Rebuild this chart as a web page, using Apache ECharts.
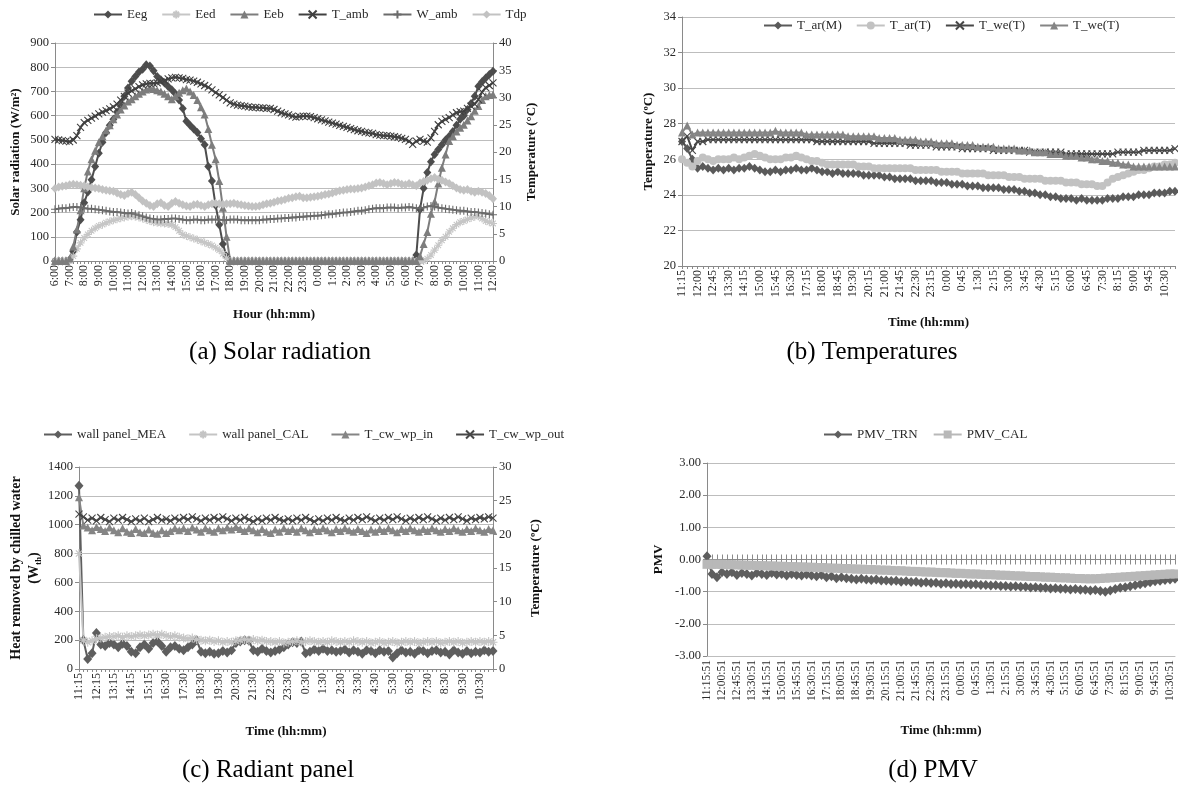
<!DOCTYPE html>
<html>
<head>
<meta charset="utf-8">
<script src="https://cdn.jsdelivr.net/npm/echarts@6/dist/echarts.min.js"></script>
<style>
html, body { margin: 0; padding: 0; background: #fff; }
#chart { width: 1178px; height: 796px; }
</style>
</head>
<body>
<div id="chart"></div>
<script>
// ---- (a) solar radiation, 15 min steps 6:00 -> 12:00 next day
var tickA = ['6:00','7:00','8:00','9:00','10:00','11:00','12:00','13:00','14:00','15:00','16:00','17:00','18:00','19:00','20:00','21:00','22:00','23:00','0:00','1:00','2:00','3:00','4:00','5:00','6:00','7:00','8:00','9:00','10:00','11:00','12:00'];
var eeg = [0,0,0,0,5,40,120,170,
  240,285,335,390,445,490,530,560,
  585,615,640,680,714,742,762,780,
  792,810,805,785,762,748,735,720,
  707,690,665,630,577,560,545,530,
  505,480,390,330,230,150,70,20,
  0,0,0,0,0,0,0,0,
  0,0,0,0,0,0,0,0,
  0,0,0,0,0,0,0,0,
  0,0,0,0,0,0,0,0,
  0,0,0,0,0,0,0,0,
  0,0,0,0,0,0,0,0,
  0,0,0,25,213,300,365,410,
  440,460,480,500,515,535,560,585,
  600,625,650,680,721,740,755,770,
  783];
var eed = [0,0,0,0,0,20,50,75,
  95,110,125,135,145,150,158,163,
  168,172,176,180,183,185,183,180,
  175,170,165,160,158,156,155,153,
  150,140,125,110,103,98,93,88,
  82,76,70,64,55,45,30,12,
  0,0,0,0,0,0,0,0,
  0,0,0,0,0,0,0,0,
  0,0,0,0,0,0,0,0,
  0,0,0,0,0,0,0,0,
  0,0,0,0,0,0,0,0,
  0,0,0,0,0,0,0,0,
  0,0,0,0,0,0,10,25,
  45,65,85,100,120,135,150,160,
  165,172,178,183,185,175,165,160,
  155];
var eeb = [0,0,0,0,10,60,130,210,
  300,370,420,455,490,515,540,560,
  585,605,625,642,658,668,680,690,
  700,708,714,710,705,700,690,680,
  668,680,695,705,712,700,685,665,
  635,605,545,480,420,330,220,100,
  0,0,0,0,0,0,0,0,
  0,0,0,0,0,0,0,0,
  0,0,0,0,0,0,0,0,
  0,0,0,0,0,0,0,0,
  0,0,0,0,0,0,0,0,
  0,0,0,0,0,0,0,0,
  0,0,0,0,20,70,120,195,
  245,320,385,440,495,515,535,550,
  563,580,598,620,640,665,680,685,
  687];
var tAmb = [22.3,22.2,22.1,22.0,21.9,22.2,23.0,24.5,
  25.4,25.8,26.2,26.6,27.0,27.3,27.6,27.9,
  28.3,28.8,29.5,30.2,30.8,31.2,31.6,32.0,
  32.3,32.5,32.6,32.6,32.7,32.9,33.1,33.4,
  33.6,33.7,33.6,33.5,33.3,33.2,33.0,32.8,
  32.5,32.2,31.9,31.4,30.9,30.5,30.0,29.5,
  29.0,28.8,28.6,28.5,28.4,28.3,28.2,28.2,
  28.1,28.1,28.0,28.0,27.8,27.5,27.2,27.0,
  26.8,26.6,26.4,26.5,26.6,26.6,26.5,26.3,
  26.1,25.9,25.7,25.5,25.3,25.1,24.9,24.7,
  24.5,24.3,24.1,23.9,23.8,23.6,23.5,23.4,
  23.2,23.1,23.0,23.0,22.9,22.8,22.7,22.5,
  22.3,22.0,21.4,22.0,22.3,22.0,21.8,22.6,
  23.8,25.0,25.6,26.0,26.3,26.8,27.2,27.4,
  27.5,28.0,28.4,28.8,29.6,31.0,31.8,32.2,
  32.7];
var wAmb = [9.5,9.6,9.7,9.7,9.8,9.9,9.9,9.8,
  9.7,9.6,9.6,9.5,9.4,9.3,9.2,9.1,
  9.0,9.0,8.9,8.8,8.7,8.8,8.6,8.4,
  8.2,8.0,7.8,7.7,7.6,7.6,7.7,7.7,
  7.8,7.8,7.7,7.6,7.5,7.5,7.6,7.6,
  7.5,7.5,7.6,7.6,7.6,7.6,7.5,7.5,
  7.6,7.6,7.6,7.5,7.5,7.5,7.5,7.5,
  7.5,7.6,7.6,7.7,7.7,7.8,7.8,7.9,
  7.9,8.0,8.0,8.1,8.1,8.2,8.2,8.3,
  8.3,8.4,8.5,8.6,8.6,8.7,8.8,8.9,
  8.9,9.0,9.1,9.2,9.2,9.3,9.5,9.6,
  9.7,9.7,9.7,9.8,9.8,9.8,9.7,9.8,
  9.8,9.9,9.8,9.7,9.6,9.8,10.0,10.1,
  10.0,9.8,9.7,9.6,9.5,9.4,9.3,9.2,
  9.2,9.1,9.0,9.0,8.9,8.8,8.7,8.6,
  8.5];
var tdp = [13.3,13.6,13.7,13.8,14.0,14.1,14.0,13.9,
  13.8,13.6,13.5,13.4,13.3,13.1,13.0,12.9,
  12.8,12.5,12.2,12.0,12.4,12.6,12.2,11.6,
  11.0,10.6,10.2,10.0,10.5,10.7,10.2,10.0,
  10.6,10.9,10.6,10.3,10.1,10.0,10.3,10.4,
  10.2,10.0,10.3,10.5,10.6,10.5,10.4,10.5,
  10.5,10.6,10.4,10.3,10.2,10.1,10.0,10.0,
  10.1,10.3,10.5,10.6,10.8,11.0,11.1,11.3,
  11.5,11.6,11.8,11.9,11.6,11.6,11.7,11.8,
  11.9,12.0,12.2,12.3,12.5,12.7,12.9,13.0,
  13.1,13.2,13.2,13.3,13.4,13.6,13.8,14.0,
  14.3,14.4,14.2,14.0,14.2,14.4,14.3,14.1,
  14.0,14.2,14.0,13.8,14.3,14.6,14.8,15.1,
  15.3,15.0,14.8,14.5,14.2,13.8,13.4,13.1,
  13.0,13.1,12.8,12.6,12.8,12.6,12.4,12.0,
  11.4];

// ---- (b) temperatures, 15 min steps from 11:15
var tickB = ['11:15','12:00','12:45','13:30','14:15','15:00','15:45','16:30','17:15','18:00','18:45','19:30','20:15','21:00','21:45','22:30','23:15','0:00','0:45','1:30','2:15','3:00','3:45','4:30','5:15','6:00','6:45','7:30','8:15','9:00','9:45','10:30'];
var tArM = [27.0,26.6,26.0,25.5,25.6,25.5,25.4,25.5,25.4,25.5,25.4,25.5,
  25.5,25.6,25.5,25.4,25.3,25.3,25.4,25.3,25.4,25.4,25.5,25.4,
  25.4,25.5,25.4,25.3,25.3,25.2,25.3,25.2,25.2,25.2,25.2,25.1,
  25.1,25.1,25.1,25.0,25.0,24.9,24.9,24.9,24.9,24.8,24.8,24.8,
  24.8,24.7,24.7,24.7,24.6,24.6,24.6,24.5,24.5,24.5,24.4,24.4,
  24.4,24.4,24.3,24.3,24.3,24.2,24.2,24.1,24.1,24.0,24.0,23.9,
  23.9,23.8,23.8,23.8,23.7,23.8,23.7,23.7,23.7,23.7,23.8,23.8,
  23.8,23.9,23.9,23.9,24.0,24.0,24.0,24.1,24.1,24.1,24.2,24.2];
var tArT = [26.0,25.8,25.6,25.9,26.1,26.0,25.9,26.0,26.0,26.0,26.1,26.0,
  26.1,26.2,26.3,26.2,26.1,26.0,26.0,26.0,26.1,26.1,26.2,26.1,
  26.0,25.9,25.9,25.8,25.7,25.7,25.7,25.7,25.7,25.7,25.6,25.6,
  25.6,25.5,25.5,25.5,25.5,25.5,25.5,25.5,25.5,25.4,25.4,25.4,
  25.4,25.4,25.3,25.3,25.3,25.3,25.2,25.2,25.2,25.2,25.2,25.1,
  25.1,25.1,25.1,25.0,25.0,25.0,24.9,24.9,24.9,24.9,24.8,24.8,
  24.8,24.8,24.7,24.7,24.7,24.6,24.6,24.6,24.5,24.5,24.7,24.9,
  25.0,25.1,25.2,25.3,25.4,25.4,25.5,25.6,25.6,25.7,25.7,25.8];
var tWeX = [27.0,27.3,26.5,27.0,27.0,27.1,27.1,27.1,27.1,27.1,27.1,27.1,
  27.1,27.1,27.1,27.1,27.1,27.1,27.1,27.1,27.1,27.1,27.1,27.1,
  27.1,27.1,27.0,27.0,27.0,27.0,27.0,27.0,27.0,27.0,27.0,27.0,
  27.0,26.9,26.9,26.9,26.9,26.9,26.9,26.9,26.8,26.8,26.8,26.8,
  26.8,26.7,26.7,26.7,26.7,26.7,26.6,26.6,26.6,26.6,26.6,26.6,
  26.5,26.5,26.5,26.5,26.5,26.5,26.5,26.4,26.4,26.4,26.4,26.4,
  26.4,26.4,26.3,26.3,26.3,26.3,26.3,26.3,26.3,26.3,26.3,26.3,
  26.4,26.4,26.4,26.4,26.4,26.5,26.5,26.5,26.5,26.5,26.5,26.6];
var tWeTri = [27.5,27.9,27.4,27.5,27.5,27.5,27.5,27.5,27.5,27.5,27.5,27.5,
  27.5,27.5,27.5,27.5,27.5,27.5,27.6,27.5,27.5,27.5,27.5,27.5,
  27.4,27.4,27.4,27.4,27.4,27.4,27.4,27.4,27.3,27.3,27.3,27.3,
  27.3,27.3,27.2,27.2,27.2,27.2,27.1,27.1,27.1,27.1,27.0,27.0,
  27.0,26.9,26.9,26.9,26.9,26.8,26.8,26.8,26.8,26.7,26.7,26.7,
  26.7,26.6,26.6,26.6,26.6,26.5,26.5,26.5,26.4,26.4,26.4,26.3,
  26.3,26.3,26.2,26.2,26.2,26.1,26.1,26.0,26.0,25.9,25.9,25.8,
  25.8,25.7,25.7,25.6,25.6,25.6,25.6,25.6,25.6,25.6,25.6,25.6];

// ---- (c) radiant panel
var tickC = ['11:15','12:15','13:15','14:15','15:15','16:30','17:30','18:30','19:30','20:30','21:30','22:30','23:30','0:30','1:30','2:30','3:30','4:30','5:30','6:30','7:30','8:30','9:30','10:30'];
var wpMea = [1270,200,70,110,250,170,160,180,170,150,175,160,
  120,110,150,170,140,180,190,160,120,150,160,140,
  130,150,170,200,120,110,120,105,110,125,115,130,
  180,190,200,195,130,120,140,125,115,125,135,150,
  170,185,180,190,110,120,135,125,140,125,130,120,
  125,135,115,130,120,105,130,125,110,130,120,125,
  80,110,130,115,120,105,130,125,110,125,130,115,
  120,100,130,115,105,125,110,120,115,130,120,125];
var wpCal = [800,200,185,195,210,215,220,225,225,230,220,230,
  225,230,235,230,235,240,235,240,230,225,230,220,
  215,210,215,205,200,195,200,190,195,185,190,185,
  195,200,205,200,205,195,200,190,190,185,190,180,
  185,190,195,185,190,195,190,185,190,185,195,190,
  185,190,185,195,190,185,190,180,185,190,180,185,
  190,180,185,190,185,190,180,185,190,185,190,180,
  185,190,185,190,180,185,190,185,190,185,190,185];
var cwIn = [25.5,21.3,21.0,20.6,21.1,20.8,20.5,21.0,20.6,20.3,20.9,20.4,
  20.2,20.8,20.3,20.2,20.7,20.2,20.1,20.6,20.2,20.5,20.9,20.6,
  20.9,20.5,21.0,20.7,20.4,20.9,20.6,20.4,20.9,20.6,21.0,20.7,
  21.1,20.8,20.5,20.9,20.6,20.3,20.8,20.4,20.2,20.7,20.4,20.9,
  20.5,20.8,20.4,20.9,20.6,20.3,20.8,20.5,20.9,20.6,20.3,20.8,
  20.5,20.9,20.6,20.4,20.8,20.5,20.2,20.7,20.4,20.8,20.5,20.9,
  20.6,20.3,20.8,20.5,20.9,20.6,20.4,20.8,20.5,20.9,20.6,20.4,
  20.8,20.5,20.9,20.6,20.4,20.8,20.5,20.9,20.6,20.4,20.8,20.6];
var cwOut = [23.0,22.6,22.1,22.4,22.0,22.5,22.2,21.9,22.4,22.1,22.5,22.2,
  21.9,22.3,22.0,22.4,21.9,22.2,22.5,22.1,22.3,22.0,22.4,22.1,
  22.5,22.2,22.6,22.3,22.0,22.4,22.1,22.5,22.2,22.6,22.3,22.0,
  22.4,22.1,22.5,22.2,21.9,22.3,22.0,22.4,22.1,22.5,22.2,22.0,
  22.3,22.0,22.4,22.1,22.5,22.2,21.9,22.3,22.0,22.4,22.1,22.5,
  22.2,22.0,22.4,22.1,22.5,22.2,22.6,22.3,22.0,22.4,22.1,22.5,
  22.2,22.6,22.3,22.0,22.4,22.1,22.5,22.2,22.6,22.3,22.0,22.4,
  22.1,22.5,22.2,22.6,22.3,22.0,22.4,22.2,22.5,22.3,22.6,22.4];

// ---- (d) PMV
var tickD = tickB.map(function (t) { return t + ':51'; });
var pmvTrn = [0.10,-0.45,-0.55,-0.40,-0.45,-0.40,-0.48,-0.42,
  -0.45,-0.50,-0.42,-0.45,-0.48,-0.42,-0.47,-0.45,
  -0.50,-0.45,-0.48,-0.50,-0.47,-0.50,-0.52,-0.48,
  -0.55,-0.52,-0.58,-0.55,-0.58,-0.60,-0.62,-0.60,
  -0.62,-0.64,-0.62,-0.65,-0.65,-0.67,-0.66,-0.69,
  -0.68,-0.70,-0.69,-0.72,-0.71,-0.73,-0.72,-0.75,
  -0.74,-0.76,-0.75,-0.77,-0.76,-0.78,-0.77,-0.79,
  -0.79,-0.81,-0.80,-0.82,-0.82,-0.84,-0.83,-0.85,
  -0.85,-0.87,-0.86,-0.88,-0.88,-0.90,-0.89,-0.91,
  -0.91,-0.93,-0.92,-0.94,-0.94,-0.96,-0.95,-0.98,
  -1.00,-0.96,-0.92,-0.88,-0.86,-0.83,-0.80,-0.77,
  -0.74,-0.71,-0.68,-0.66,-0.64,-0.62,-0.60];
var pmvCal = [-0.15,-0.15,-0.15,-0.15,-0.16,-0.16,-0.17,-0.17,
  -0.18,-0.18,-0.19,-0.19,-0.20,-0.20,-0.21,-0.21,
  -0.22,-0.22,-0.23,-0.23,-0.24,-0.24,-0.25,-0.25,
  -0.26,-0.27,-0.27,-0.28,-0.28,-0.29,-0.30,-0.30,
  -0.31,-0.31,-0.32,-0.33,-0.33,-0.34,-0.35,-0.35,
  -0.36,-0.37,-0.37,-0.38,-0.39,-0.39,-0.40,-0.41,
  -0.41,-0.42,-0.43,-0.43,-0.44,-0.45,-0.45,-0.46,
  -0.47,-0.47,-0.48,-0.49,-0.49,-0.50,-0.51,-0.51,
  -0.52,-0.53,-0.53,-0.54,-0.55,-0.55,-0.56,-0.57,
  -0.57,-0.58,-0.59,-0.59,-0.60,-0.60,-0.60,-0.59,
  -0.58,-0.57,-0.56,-0.55,-0.54,-0.53,-0.52,-0.51,
  -0.50,-0.49,-0.48,-0.47,-0.46,-0.45,-0.45];

// category lists: each tick label followed by the 15 min steps in between
function buildCats(ticks, perTick, total) {
  var out = [];
  ticks.forEach(function (t) {
    var p = t.split(':');
    for (var k = 0; k < perTick; k++) {
      if (k === 0) { out.push(t); continue; }
      var m = (+p[0]) * 60 + (+p[1]) + 15 * k;
      var s = (Math.floor(m / 60) % 24) + ':' + ('0' + (m % 60)).slice(-2);
      out.push(p.length > 2 ? s + ':' + p[2] : s);
    }
  });
  return out.slice(0, total);
}
var catsA = buildCats(tickA, 4, 121);
var catsB = buildCats(tickB, 3, 96);
var catsC = buildCats(tickC, 4, 96);
var catsD = buildCats(tickD, 3, 95);

var serif = '"Liberation Serif", "Times New Roman", serif';
var axisGray = '#8a8a8a';
var gridGray = '#bdbdbd';
var txt = '#2a2a2a';
var xPath = 'path://M0,0L10,10M10,0L0,10';
var plusPath = 'path://M5,0L5,10M0,5L10,5';
var starPath = 'path://M5,0L5,10M0,5L10,5M1.5,1.5L8.5,8.5M8.5,1.5L1.5,8.5';

function catAxis(grid, cats, every, name, gap, extra) {
  var a = {
    type: 'category', gridIndex: grid, data: cats, boundaryGap: false,
    axisLine: { lineStyle: { color: axisGray } },
    axisTick: { interval: 0, length: 3, lineStyle: { color: axisGray } },
    axisLabel: { interval: every - 1, rotate: 90, fontFamily: serif, fontSize: 12, color: txt, margin: 4 },
    splitLine: { show: false },
    name: name, nameLocation: 'middle', nameGap: gap,
    nameTextStyle: { fontFamily: serif, fontSize: 13, fontWeight: 'bold', color: '#111' }
  };
  return Object.assign(a, extra || {});
}
function valAxis(grid, min, max, step, pos, name, gap, split, extra) {
  var a = {
    type: 'value', gridIndex: grid, min: min, max: max, interval: step, position: pos,
    axisLine: { show: true, lineStyle: { color: axisGray } },
    axisTick: { show: true, length: 4, lineStyle: { color: axisGray } },
    axisLabel: { fontFamily: serif, fontSize: 12.5, color: txt, margin: 6, formatter: function (v) { return String(v); } },
    splitLine: { show: split, lineStyle: { color: gridGray, width: 1 } },
    name: name, nameLocation: 'middle', nameGap: gap, nameRotate: 90,
    nameTextStyle: { fontFamily: serif, fontSize: 13, fontWeight: 'bold', color: '#111' }
  };
  return Object.assign(a, extra || {});
}
function line(name, data, xi, yi, color, symbol, size, stroke) {
  return {
    type: 'line', name: name, data: data, xAxisIndex: xi, yAxisIndex: yi,
    symbol: symbol, symbolSize: size, showAllSymbol: true,
    lineStyle: { color: color, width: 2 },
    itemStyle: { color: color, borderColor: color, borderWidth: stroke ? 1.1 : 0 },
    emphasis: { disabled: true }
  };
}
function legend(left, top, names, gap) {
  return {
    left: left, top: top, data: names, itemGap: gap, itemWidth: 28, itemHeight: 10, padding: 0,
    textStyle: { fontFamily: serif, fontSize: 13, color: txt }
  };
}
function caption(text, x, y) {
  return {
    type: 'text', x: x, y: y,
    style: { text: text, font: '25px ' + serif, fill: '#000', textAlign: 'center', align: 'center', textVerticalAlign: 'middle', verticalAlign: 'middle' }
  };
}

var chart = echarts.init(document.getElementById('chart'));
var option = {
  animation: false,
  backgroundColor: '#fff',
  grid: [
    { left: 55, top: 43, width: 438, height: 218 },
    { left: 682, top: 17, width: 493, height: 249 },
    { left: 79, top: 467, width: 414, height: 202 },
    { left: 707, top: 463, width: 468, height: 193 }
  ],
  legend: [
    legend(93, 8, ['Eeg', 'Eed', 'Eeb', 'T_amb', 'W_amb', 'Tdp'], 14),
    legend(763, 19, ['T_ar(M)', 'T_ar(T)', 'T_we(T)', 'T_we(T) '], 14),
    legend(43, 428, ['wall panel_MEA', 'wall panel_CAL', 'T_cw_wp_in', 'T_cw_wp_out'], 22),
    legend(823, 428, ['PMV_TRN', 'PMV_CAL'], 15)
  ],
  xAxis: [
    catAxis(0, catsA, 4, 'Hour (hh:mm)', 47),
    catAxis(1, catsB, 3, 'Time (hh:mm)', 50),
    catAxis(2, catsC, 4, 'Time (hh:mm)', 56),
    catAxis(3, catsD, 3, 'Time (hh:mm)', 68, {
      axisLine: { onZero: false, lineStyle: { color: gridGray } },
      axisTick: { show: false },
      axisLabel: { interval: 2, rotate: 90, fontFamily: serif, fontSize: 11.5, color: txt, margin: 4 }
    }),
    {
      type: 'category', gridIndex: 3, data: catsD, boundaryGap: false, position: 'bottom',
      axisLine: { onZero: true, onZeroAxisIndex: 5, lineStyle: { color: axisGray } },
      axisTick: { interval: 0, length: 5, lineStyle: { color: axisGray } },
      axisLabel: { show: false }, splitLine: { show: false }
    },
    {
      type: 'category', gridIndex: 3, data: catsD, boundaryGap: false, position: 'bottom',
      axisLine: { onZero: true, onZeroAxisIndex: 5, lineStyle: { color: axisGray } },
      axisTick: { interval: 0, length: 5, inside: true, lineStyle: { color: axisGray } },
      axisLabel: { show: false }, splitLine: { show: false }
    }
  ],
  yAxis: [
    valAxis(0, 0, 900, 100, 'left', 'Solar radiation (W/m²)', 33, true),
    valAxis(0, 0, 40, 5, 'right', 'Temperature (°C)', 32, false),
    valAxis(1, 20, 34, 2, 'left', 'Temperature (ºC)', 27, true),
    valAxis(2, 0, 1400, 200, 'left', 'Heat removed by chilled water\n(W{s|th})', 36, true, {
      nameTextStyle: {
        fontFamily: serif, fontSize: 14, fontWeight: 'bold', color: '#111', lineHeight: 18,
        rich: { s: { fontFamily: serif, fontSize: 9, fontWeight: 'bold', color: '#111', verticalAlign: 'bottom' } }
      }
    }),
    valAxis(2, 0, 30, 5, 'right', 'Temperature (ºC)', 36, false),
    valAxis(3, -3, 3, 1, 'left', 'PMV', 42, true, {
      axisLabel: { fontFamily: serif, fontSize: 12.5, color: txt, margin: 6, formatter: function (v) { return v.toFixed(2); } }
    })
  ],
  series: [
    line('Eeg', eeg, 0, 0, '#4d4d4d', 'diamond', [8, 9], false),
    line('Eed', eed, 0, 0, '#c6c6c6', starPath, 8, true),
    line('Eeb', eeb, 0, 0, '#7d7d7d', 'triangle', 8, false),
    line('T_amb', tAmb, 0, 1, '#404040', xPath, 7, true),
    line('W_amb', wAmb, 0, 1, '#6b6b6b', plusPath, 8, true),
    line('Tdp', tdp, 0, 1, '#c2c2c2', 'diamond', [8, 9], false),

    line('T_ar(M)', tArM, 1, 2, '#5a5a5a', 'diamond', [8, 9], false),
    line('T_ar(T)', tArT, 1, 2, '#c2c2c2', 'circle', 8, false),
    line('T_we(T)', tWeX, 1, 2, '#474747', xPath, 7, true),
    line('T_we(T) ', tWeTri, 1, 2, '#858585', 'triangle', 8, false),

    line('wall panel_MEA', wpMea, 2, 3, '#5e5e5e', 'diamond', [9, 10], false),
    line('wall panel_CAL', wpCal, 2, 3, '#c4c4c4', starPath, 9, true),
    line('T_cw_wp_in', cwIn, 2, 4, '#858585', 'triangle', 8, false),
    line('T_cw_wp_out', cwOut, 2, 4, '#474747', xPath, 7, true),

    line('PMV_TRN', pmvTrn, 3, 5, '#5e5e5e', 'diamond', [9, 10], false),
    line('PMV_CAL', pmvCal, 3, 5, '#b8b8b8', 'rect', 9, false)
  ],
  graphic: [
    caption('(a) Solar radiation', 280, 352),
    caption('(b) Temperatures', 872, 352),
    caption('(c) Radiant panel', 268, 770),
    caption('(d) PMV', 933, 770)
  ]
};
chart.setOption(option, true);
</script>
</body>
</html>
